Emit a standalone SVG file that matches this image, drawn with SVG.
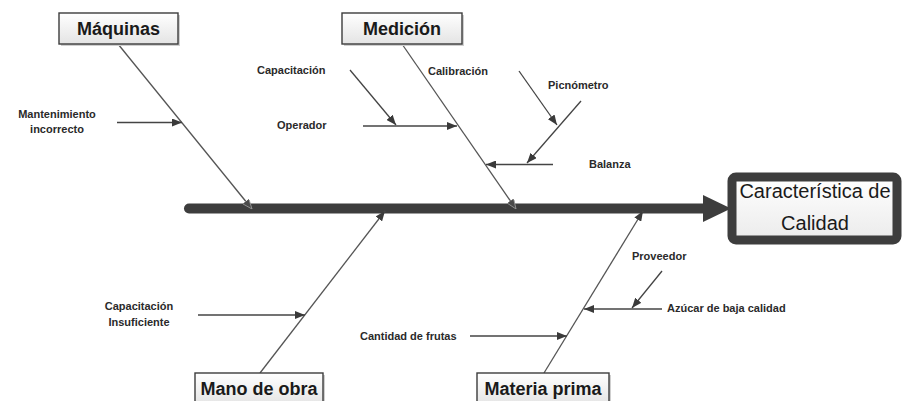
<svg xmlns="http://www.w3.org/2000/svg" width="906" height="401" viewBox="0 0 906 401">
  <defs>
    <linearGradient id="boxFill" x1="0" y1="0" x2="0" y2="1">
      <stop offset="0" stop-color="#ffffff"/>
      <stop offset="1" stop-color="#e4e4e4"/>
    </linearGradient>
    <linearGradient id="effectFill" x1="0" y1="0" x2="0" y2="1">
      <stop offset="0" stop-color="#ffffff"/>
      <stop offset="1" stop-color="#ebebeb"/>
    </linearGradient>
    <marker id="ah" viewBox="0 0 10 8" refX="10" refY="4" markerWidth="10" markerHeight="8" orient="auto" markerUnits="userSpaceOnUse">
      <path d="M0,0 L10,4 L0,8 z" fill="#3a3a3a"/>
    </marker>
    <marker id="ahSpine" viewBox="0 0 10 8" refX="10" refY="4" markerWidth="10" markerHeight="8" orient="auto" markerUnits="userSpaceOnUse">
      <path d="M0,0 L10,4 L0,8 z" fill="#4a4a4a" stroke="#9a9a9a" stroke-width="0.8"/>
    </marker>
    <style>
      .cat rect.box { fill: url(#boxFill); stroke: #3c3c3c; stroke-width: 1.4; }
      .cat rect.shadow { fill: #cfcfcf; }
      .cat text { font-family: "Liberation Sans", Arial, sans-serif; font-weight: bold; font-size: 18px; fill: #1a1a1a; text-anchor: middle; }
      .bone { stroke: #555555; stroke-width: 1.3; fill: none; }
      .sub { stroke: #444444; stroke-width: 1.3; fill: none; marker-end: url(#ah); }
      .lbl { font-family: "Liberation Sans", Arial, sans-serif; font-weight: bold; font-size: 11px; fill: #2a2a2a; }
      .effect text { font-family: "Liberation Sans", Arial, sans-serif; font-size: 20px; fill: #1a1a1a; text-anchor: middle; }
    </style>
  </defs>

  <rect x="0" y="0" width="906" height="401" fill="#ffffff"/>

  <!-- spine with its arrowhead -->
  <g id="spine">
    <line x1="189" y1="208.5" x2="706" y2="208.5" stroke="#3d3d3d" stroke-width="10" stroke-linecap="round"/>
    <path d="M703,195 L731,208.5 L703,222 z" fill="#3d3d3d"/>
  </g>

  <!-- main bones and cause arrows -->
  <g id="connectors">
    <line class="bone" x1="118" y1="44" x2="252" y2="209" marker-end="url(#ahSpine)"/>
    <line class="bone" x1="402" y1="44" x2="516" y2="209" marker-end="url(#ahSpine)"/>
    <line class="bone" x1="260" y1="373" x2="385" y2="211" marker-end="url(#ah)"/>
    <line class="bone" x1="544" y1="373" x2="643" y2="211" marker-end="url(#ah)"/>

    <line class="sub" x1="117" y1="122.5" x2="182" y2="122.5"/>
    <line class="sub" x1="363" y1="126" x2="457" y2="126"/>
    <line class="sub" x1="350" y1="70" x2="396" y2="125"/>
    <line class="sub" x1="553" y1="164.5" x2="486" y2="164.5"/>
    <line class="sub" x1="581" y1="101" x2="527" y2="163"/>
    <line class="sub" x1="519" y1="71" x2="557" y2="125"/>

    <line class="sub" x1="198" y1="315" x2="305" y2="315"/>
    <line class="sub" x1="470" y1="336" x2="567" y2="336"/>
    <line class="sub" x1="662" y1="309" x2="584" y2="309"/>
    <line class="sub" x1="662" y1="271" x2="632" y2="308"/>
  </g>

  <!-- category boxes -->
  <g id="maquinas" class="cat">
    <rect class="shadow" x="61" y="15" width="119" height="31"/>
    <rect class="box" x="59" y="13" width="119" height="31"/>
    <text x="118.5" y="35">Máquinas</text>
  </g>
  <g id="medicion" class="cat">
    <rect class="shadow" x="344" y="15" width="120" height="31"/>
    <rect class="box" x="342" y="13" width="120" height="31"/>
    <text x="402" y="35">Medición</text>
  </g>
  <g id="mano-de-obra" class="cat">
    <rect class="shadow" x="197" y="375" width="128" height="32"/>
    <rect class="box" x="195" y="373" width="128" height="32"/>
    <text x="259" y="395">Mano de obra</text>
  </g>
  <g id="materia-prima" class="cat">
    <rect class="shadow" x="479" y="375" width="132" height="32"/>
    <rect class="box" x="477" y="373" width="132" height="32"/>
    <text x="543" y="395">Materia prima</text>
  </g>

  <!-- effect box -->
  <g id="efecto" class="effect">
    <rect x="732" y="177" width="165" height="63" rx="4" fill="url(#effectFill)" stroke="#3d3d3d" stroke-width="9"/>
    <text x="815" y="198">Característica de</text>
    <text x="815" y="230">Calidad</text>
  </g>

  <!-- cause labels -->
  <g id="causas">
    <text class="lbl" x="57" y="118" text-anchor="middle">Mantenimiento</text>
    <text class="lbl" x="57" y="133" text-anchor="middle">incorrecto</text>
    <text class="lbl" x="257" y="74">Capacitación</text>
    <text class="lbl" x="277" y="129">Operador</text>
    <text class="lbl" x="428" y="75">Calibración</text>
    <text class="lbl" x="548" y="89">Picnómetro</text>
    <text class="lbl" x="589" y="168">Balanza</text>
    <text class="lbl" x="139" y="310" text-anchor="middle">Capacitación</text>
    <text class="lbl" x="139" y="326" text-anchor="middle">Insuficiente</text>
    <text class="lbl" x="360" y="340">Cantidad de frutas</text>
    <text class="lbl" x="632" y="260">Proveedor</text>
    <text class="lbl" x="667" y="312">Azúcar de baja calidad</text>
  </g>
</svg>
